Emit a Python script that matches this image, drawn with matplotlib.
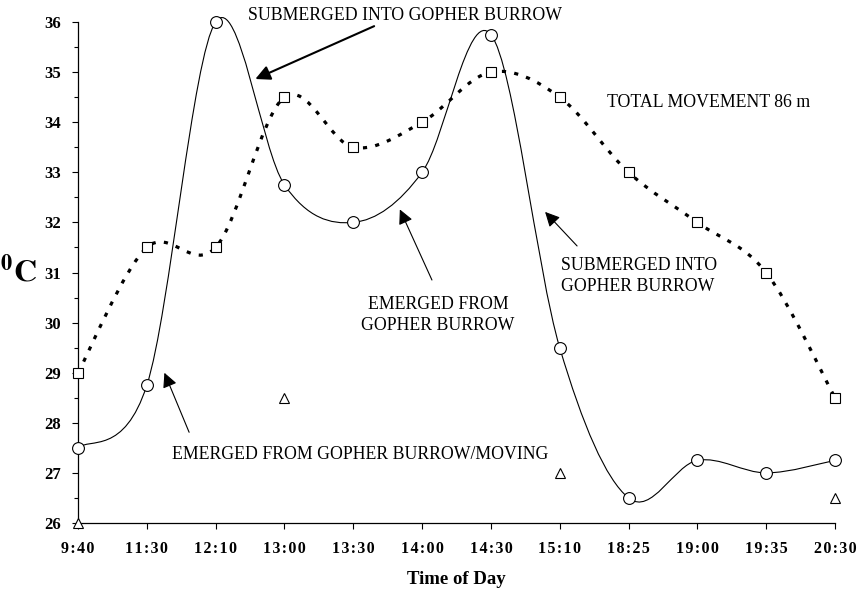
import matplotlib
matplotlib.use("Agg")
import matplotlib.pyplot as plt
import matplotlib.patches as mpatches
from matplotlib.path import Path

# data
times = ["9:40", "11:30", "12:10", "13:00", "13:30", "14:00",
         "14:30", "15:10", "18:25", "19:00", "19:35", "20:30"]
circle_temp = [27.5, 28.75, 36.0, 32.75, 32.0, 33.0,
               35.75, 29.5, 26.5, 27.25, 27.0, 27.25]
square_temp = [29.0, 31.5, 31.5, 34.5, 33.5, 34.0,
               35.0, 34.5, 33.0, 32.0, 31.0, 28.5]
triangle_idx = [0, 3, 7, 11]
triangle_temp = [26.0, 28.5, 27.0, 26.5]
y_ticks = [26, 27, 28, 29, 30, 31, 32, 33, 34, 35, 36]

plt.rcParams['font.family'] = ['Liberation Serif', 'DejaVu Serif']
plt.rcParams['mathtext.fontset'] = 'stix'


def smooth_path(xs, ys):
    """ Bezier path through every point, like a spreadsheet 'smoothed line' """
    n = len(xs)
    verts = [(xs[0], ys[0])]
    codes = [Path.MOVETO]
    for i in range(n - 1):
        xa, ya = (xs[i - 1], ys[i - 1]) if i > 0 else (xs[i], ys[i])
        xb, yb = (xs[i + 2], ys[i + 2]) if i + 2 < n else (xs[i + 1], ys[i + 1])
        c1 = (xs[i] + (xs[i + 1] - xa) / 6.0, ys[i] + (ys[i + 1] - ya) / 6.0)
        c2 = (xs[i + 1] - (xb - xs[i]) / 6.0, ys[i + 1] - (yb - ys[i]) / 6.0)
        verts += [c1, c2, (xs[i + 1], ys[i + 1])]
        codes += [Path.CURVE4] * 3
    return Path(verts, codes)


fig = plt.figure(figsize=(8.64, 6.0), dpi=100)
ax = fig.add_axes([0.0903, 0.1283, 0.8761, 0.835])

x = list(range(len(times)))

# smoothed lines
ax.add_patch(mpatches.PathPatch(smooth_path(x, circle_temp), fill=False,
                                edgecolor='black', lw=0.8, clip_on=False))
ax.add_patch(mpatches.PathPatch(smooth_path(x, square_temp), fill=False,
                                edgecolor='black', lw=2.3,
                                linestyle=(0, (1.3, 2.6)), clip_on=False))

# markers
ax.plot(x, circle_temp, 'o', ms=8.5, mfc='white', mec='black', mew=0.8,
        clip_on=False, zorder=5)
ax.plot(x, square_temp, 's', ms=7.5, mfc='white', mec='black', mew=0.8,
        clip_on=False, zorder=5)
ax.plot(triangle_idx, triangle_temp, '^', ms=7.5, mfc='white', mec='black',
        mew=0.8, clip_on=False, zorder=5)

ax.set_xlim(0, 11)
ax.set_ylim(26, 36)

ax.spines['top'].set_visible(False)
ax.spines['right'].set_visible(False)
ax.spines['left'].set_linewidth(0.9)
ax.spines['bottom'].set_linewidth(0.9)

ax.set_xticks(x)
ax.set_xticklabels(["\u200a".join(t) for t in times], fontweight='bold',
                   fontsize=11.5)
ax.set_yticks(y_ticks)
ax.set_yticklabels([str(v) for v in y_ticks], fontweight='bold', fontsize=12)
ax.set_yticks([v + 0.5 for v in y_ticks[:-1]], minor=True)
ax.tick_params(axis='x', length=4, width=0.8, pad=9)
ax.tick_params(axis='y', which='major', length=4.5, width=0.8, pad=8)
ax.tick_params(axis='y', which='minor', length=3, width=0.8)

ax.set_xlabel("Time of Day", fontweight='bold', fontsize=13.5, labelpad=10)
fig.text(0.022, 0.547, r"$^{\mathbf{0}}\mathbf{C}$", fontsize=23,
         ha='center', va='center')

# annotations
ax.text(4.75, 36.14, "SUBMERGED INTO GOPHER BURROW", fontsize=12.8,
        ha='center', va='center')
ax.annotate("", xy=(2.54, 34.84), xytext=(4.34, 35.94),
            arrowprops=dict(arrowstyle='-|>', color='black', lw=1.5,
                            mutation_scale=22))

ax.text(7.69, 34.40, "TOTAL MOVEMENT 86 m", fontsize=12.8,
        ha='left', va='center')

ax.text(7.02, 30.93, "SUBMERGED INTO\nGOPHER BURROW", fontsize=12.8,
        ha='left', va='center', linespacing=1.3)
ax.annotate("", xy=(6.76, 32.25), xytext=(7.28, 31.49),
            arrowprops=dict(arrowstyle='-|>', color='black', lw=0.8,
                            mutation_scale=22))

ax.text(5.23, 30.15, "EMERGED FROM\nGOPHER BURROW", fontsize=12.8,
        ha='center', va='center', linespacing=1.3)
ax.annotate("", xy=(4.66, 32.31), xytext=(5.16, 30.8),
            arrowprops=dict(arrowstyle='-|>', color='black', lw=0.8,
                            mutation_scale=22))

ax.text(1.37, 27.36, "EMERGED FROM GOPHER BURROW/MOVING", fontsize=12.8,
        ha='left', va='center')
ax.annotate("", xy=(1.24, 29.05), xytext=(1.63, 27.76),
            arrowprops=dict(arrowstyle='-|>', color='black', lw=0.8,
                            mutation_scale=22))

fig.savefig("out.png", dpi=100)
